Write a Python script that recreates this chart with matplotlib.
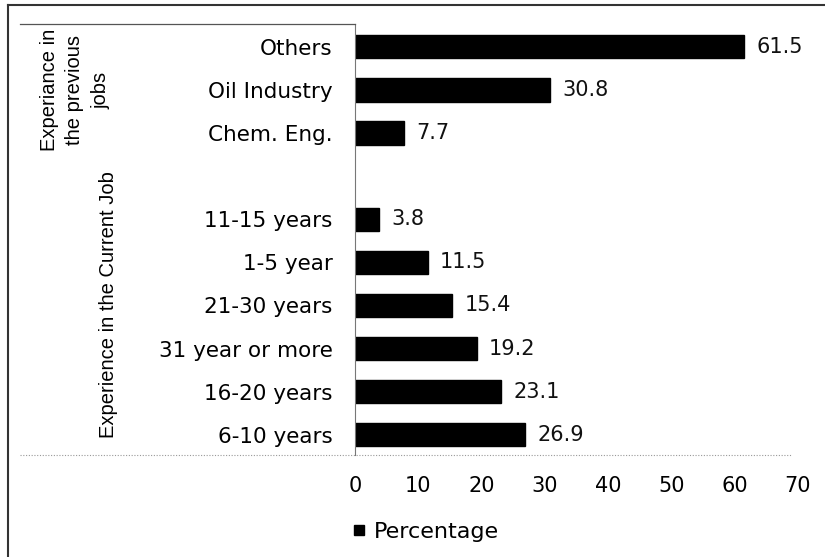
import matplotlib
matplotlib.use("Agg")
import matplotlib.pyplot as plt
from matplotlib.lines import Line2D
from matplotlib.patches import Patch

# Categories from bottom to top; the blank entry separates the two groups
categories = ["6-10 years", "16-20 years", "31 year or more", "21-30 years",
              "1-5 year", "11-15 years", "", "Chem. Eng.", "Oil Industry", "Others"]
percentages = [26.9, 23.1, 19.2, 15.4, 11.5, 3.8, None, 7.7, 30.8, 61.5]
x_ticks = [0, 10, 20, 30, 40, 50, 60, 70]
group_previous = "Experiance in\nthe previous\njobs"
group_current = "Experience in the Current Job"
legend_label = "Percentage"

plt.rcParams["font.family"] = ["DejaVu Sans"]
GROUP_FONT = ["Liberation Sans", "DejaVu Sans"]

W, H = 825, 557
fig = plt.figure(figsize=(W / 100, H / 100), dpi=100)


def fx(px):
    return px / W


def fy(py):
    return 1 - py / H


ax = fig.add_axes([fx(355), fy(455), fx(798) - fx(355), fy(24) - fy(455)])

pos = [i for i, v in enumerate(percentages) if v is not None]
vals = [v for v in percentages if v is not None]
ax.barh(pos, vals, height=0.54, color="black", edgecolor="black")

for p, v in zip(pos, vals):
    ax.text(v + 1.9, p, f"{v:.1f}", va="center", ha="left", fontsize=15, color="#111111")

ax.set_xlim(0, 70)
ax.set_ylim(-0.47, 9.53)
ax.set_xticks(x_ticks)
ax.set_xticklabels([str(t) for t in x_ticks], fontsize=15)
ax.set_yticks(range(len(categories)))
ax.set_yticklabels(categories, fontsize=15.5)
ax.tick_params(axis="both", length=0)
ax.tick_params(axis="x", pad=15)
ax.tick_params(axis="y", pad=16)

for s in ["top", "right", "bottom"]:
    ax.spines[s].set_visible(False)
ax.spines["left"].set_color("#777777")
ax.spines["left"].set_linewidth(0.8)

# Frame around the category area and the dotted baseline
fig.add_artist(Line2D([fx(20), fx(355)], [fy(24), fy(24)], color="#555555", lw=0.9))
fig.add_artist(Line2D([fx(20), fx(792)], [fy(455), fy(455)], color="#999999", lw=0.8,
                      linestyle=(0, (1, 1.5))))

# Outer border of the chart area
fig.add_artist(Line2D([fx(8), fx(8)], [fy(5), 0], color="#333333", lw=1.5))
fig.add_artist(Line2D([fx(8), 1], [fy(5), fy(5)], color="#333333", lw=1.5))

# Group labels
fig.text(fx(75), fy(90), group_previous, rotation=90, ha="center", va="center",
         fontsize=14.5, linespacing=1.45, multialignment="center", family=GROUP_FONT)
fig.text(fx(108), fy(305), group_current, rotation=90, ha="center", va="center",
         fontsize=14.5, family=GROUP_FONT)

# Legend
fig.legend(handles=[Patch(facecolor="black", edgecolor="black", label=legend_label)],
           loc="center left", bbox_to_anchor=(fx(354), fy(532)), frameon=False,
           fontsize=16, handlelength=0.45, handleheight=0.36, handletextpad=0.45,
           borderpad=0, borderaxespad=0)

fig.savefig("out.png", dpi=100)
